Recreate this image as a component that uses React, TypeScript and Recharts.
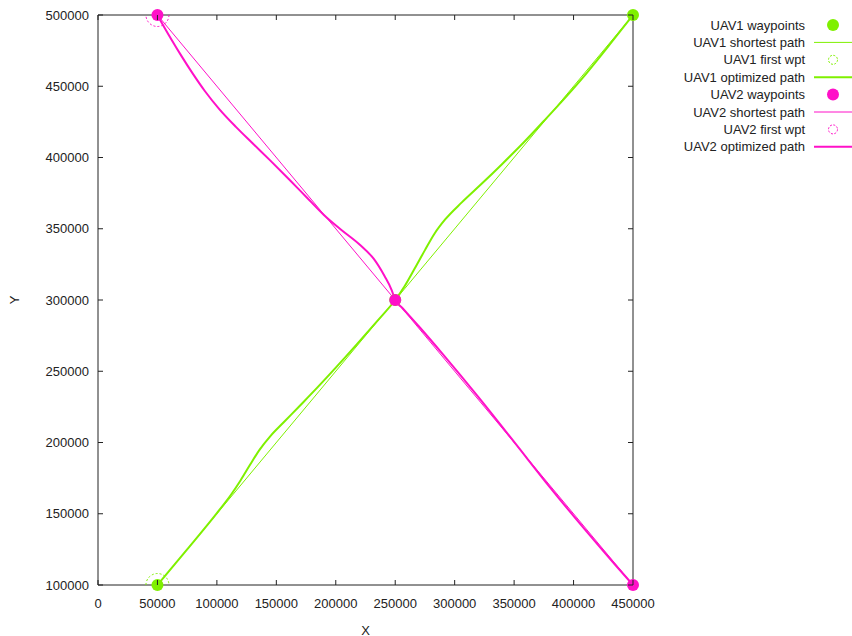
import React from 'react';
import { ComposedChart, Line, Scatter, XAxis, YAxis } from 'recharts';

const UAV1_COLOR = '#7ff000';
const UAV2_COLOR = '#ff10c8';
const INK = '#222';
const FONT = '"Liberation Sans", Arial, sans-serif';
const TICK_LEN = 5;

const xTicks = [0, 50000, 100000, 150000, 200000, 250000, 300000, 350000, 400000, 450000];
const yTicks = [100000, 150000, 200000, 250000, 300000, 350000, 400000, 450000, 500000];

// waypoints (the straight "shortest path" runs through these)
const uav1Waypoints = [
  { x: 50000, y: 100000 },
  { x: 250000, y: 300000 },
  { x: 450000, y: 500000 },
];
const uav2Waypoints = [
  { x: 50000, y: 500000 },
  { x: 250000, y: 300000 },
  { x: 450000, y: 100000 },
];

const uav1FirstWpt = [{ x: 50000, y: 100000 }];
const uav2FirstWpt = [{ x: 50000, y: 500000 }];

// optimized trajectories
const uav1Optimized = [
  { x: 50000, y: 100000 },
  { x: 75000, y: 125000 },
  { x: 100000, y: 150500 },
  { x: 112000, y: 163500 },
  { x: 120000, y: 173500 },
  { x: 128000, y: 184500 },
  { x: 136000, y: 195000 },
  { x: 145000, y: 204500 },
  { x: 156000, y: 214000 },
  { x: 170000, y: 226000 },
  { x: 185000, y: 239000 },
  { x: 200000, y: 252500 },
  { x: 218000, y: 269200 },
  { x: 235000, y: 285400 },
  { x: 250000, y: 300000 },
  { x: 258000, y: 309800 },
  { x: 266000, y: 321500 },
  { x: 275000, y: 335000 },
  { x: 283000, y: 346500 },
  { x: 292000, y: 356500 },
  { x: 306000, y: 368500 },
  { x: 322000, y: 381000 },
  { x: 340000, y: 395500 },
  { x: 358000, y: 410500 },
  { x: 375000, y: 425600 },
  { x: 390000, y: 439200 },
  { x: 410000, y: 458200 },
  { x: 430000, y: 478800 },
  { x: 450000, y: 500000 },
];

const uav2Optimized = [
  { x: 50000, y: 500000 },
  { x: 55000, y: 492500 },
  { x: 62000, y: 482500 },
  { x: 70000, y: 471500 },
  { x: 80000, y: 458500 },
  { x: 90000, y: 446500 },
  { x: 102000, y: 434000 },
  { x: 116000, y: 421500 },
  { x: 130000, y: 410000 },
  { x: 145000, y: 397800 },
  { x: 160000, y: 385300 },
  { x: 175000, y: 372500 },
  { x: 190000, y: 359700 },
  { x: 205000, y: 349000 },
  { x: 220000, y: 339000 },
  { x: 232000, y: 328800 },
  { x: 241000, y: 316800 },
  { x: 247000, y: 307000 },
  { x: 250000, y: 300000 },
  { x: 256000, y: 294400 },
  { x: 270000, y: 281400 },
  { x: 290000, y: 262000 },
  { x: 320000, y: 231800 },
  { x: 350000, y: 200400 },
  { x: 380000, y: 168700 },
  { x: 410000, y: 138500 },
  { x: 435000, y: 114200 },
  { x: 450000, y: 100000 },
];

const legendRows = [
  { label: 'UAV1 waypoints', kind: 'dot', color: UAV1_COLOR },
  { label: 'UAV1 shortest path', kind: 'thin', color: UAV1_COLOR },
  { label: 'UAV1 first wpt', kind: 'ring', color: UAV1_COLOR },
  { label: 'UAV1 optimized path', kind: 'thick', color: UAV1_COLOR },
  { label: 'UAV2 waypoints', kind: 'dot', color: UAV2_COLOR },
  { label: 'UAV2 shortest path', kind: 'thin', color: UAV2_COLOR },
  { label: 'UAV2 first wpt', kind: 'ring', color: UAV2_COLOR },
  { label: 'UAV2 optimized path', kind: 'thick', color: UAV2_COLOR },
];

const dotShape = (color: string) => (props: any) => (
  <circle cx={props.cx} cy={props.cy} r={6} fill={color} />
);

const ringShape = (color: string) => (props: any) => (
  <circle cx={props.cx} cy={props.cy} r={11.5} fill="none" stroke={color} strokeWidth={1} strokeDasharray="2 2" />
);

// ticks point inward from every side of the frame
const BottomTick = (props: any) => (
  <g>
    <line x1={props.x} x2={props.x} y1={props.y} y2={props.y - TICK_LEN} stroke={INK} />
    <text x={props.x} y={props.y + 23} textAnchor="middle" fill={INK} fontSize={13} fontFamily={FONT}>
      {props.payload.value}
    </text>
  </g>
);

const LeftTick = (props: any) => (
  <g>
    <line x1={props.x} x2={props.x + TICK_LEN} y1={props.y} y2={props.y} stroke={INK} />
    <text x={props.x - 9} y={props.y + 4.5} textAnchor="end" fill={INK} fontSize={13} fontFamily={FONT}>
      {props.payload.value}
    </text>
  </g>
);

const TopTick = (props: any) => (
  <line x1={props.x} x2={props.x} y1={props.y} y2={props.y + TICK_LEN} stroke={INK} />
);

const RightTick = (props: any) => (
  <line x1={props.x} x2={props.x - TICK_LEN} y1={props.y} y2={props.y} stroke={INK} />
);

const XLabel = (props: any) => {
  const vb = props.viewBox;
  return (
    <text x={vb.x + vb.width / 2} y={vb.y + 45} textAnchor="middle" dominantBaseline="central"
      fill={INK} fontSize={13} fontFamily={FONT}>
      X
    </text>
  );
};

const YLabel = (props: any) => {
  const vb = props.viewBox;
  const cx = vb.x + 14;
  const cy = vb.y + vb.height / 2;
  return (
    <text x={cx} y={cy} transform={`rotate(-90 ${cx} ${cy})`} textAnchor="middle" dominantBaseline="central"
      fill={INK} fontSize={13} fontFamily={FONT}>
      Y
    </text>
  );
};

const Legend = () => (
  <svg width={212} height={170} style={{ position: 'absolute', left: 640, top: 0 }}>
    {legendRows.map((row, i) => {
      const y = 25 + i * 17.4;
      return (
        <g key={row.label}>
          <text x={165} y={y + 4.5} textAnchor="end" fill={INK} fontSize={13} fontFamily={FONT}>
            {row.label}
          </text>
          {row.kind === 'dot' && <circle cx={193} cy={y} r={6} fill={row.color} />}
          {row.kind === 'ring' && (
            <circle cx={193} cy={y} r={4.5} fill="none" stroke={row.color} strokeWidth={1} strokeDasharray="2 1.5" />
          )}
          {row.kind === 'thin' && <line x1={174} x2={212} y1={y} y2={y} stroke={row.color} strokeWidth={1} />}
          {row.kind === 'thick' && <line x1={174} x2={212} y1={y} y2={y} stroke={row.color} strokeWidth={2} />}
        </g>
      );
    })}
  </svg>
);

export default function App() {
  return (
    <div style={{ position: 'absolute', left: 0, top: 0, width: 852, height: 636, background: '#fff' }}>
      <ComposedChart width={852} height={636} margin={{ top: 14, right: 218, bottom: 0, left: 0 }}
        style={{ fontFamily: FONT }}>
        <XAxis xAxisId="bottom" type="number" dataKey="x" domain={[0, 450000]} ticks={xTicks} interval={0}
          height={51} tickSize={0} tickMargin={0} tick={<BottomTick />} tickLine={false}
          axisLine={{ stroke: INK }} label={<XLabel />} />
        {/* mirrored axes close the frame; they clip what is bound to them */}
        <XAxis xAxisId="top" orientation="top" type="number" dataKey="x" domain={[0, 450000]} ticks={xTicks}
          interval={0} height={1} tickSize={0} tickMargin={0} tick={<TopTick />} tickLine={false}
          axisLine={{ stroke: INK }} allowDataOverflow />
        <YAxis yAxisId="left" type="number" dataKey="y" domain={[100000, 500000]} ticks={yTicks} interval={0}
          width={98} tickSize={0} tickMargin={0} tick={<LeftTick />} tickLine={false}
          axisLine={{ stroke: INK }} label={<YLabel />} />
        <YAxis yAxisId="right" orientation="right" type="number" dataKey="y" domain={[100000, 500000]}
          ticks={yTicks} interval={0} width={1} tickSize={0} tickMargin={0} tick={<RightTick />} tickLine={false}
          axisLine={{ stroke: INK }} allowDataOverflow />

        <Scatter xAxisId="bottom" yAxisId="left" data={uav1Waypoints} shape={dotShape(UAV1_COLOR)}
          isAnimationActive={false} />
        <Line xAxisId="top" yAxisId="right" data={uav1Waypoints} dataKey="y" type="linear" stroke={UAV1_COLOR}
          strokeWidth={1} dot={false} activeDot={false} isAnimationActive={false} />
        <Scatter xAxisId="top" yAxisId="right" data={uav1FirstWpt} shape={ringShape(UAV1_COLOR)}
          isAnimationActive={false} />
        <Line xAxisId="bottom" yAxisId="left" data={uav1Optimized} dataKey="y" type="monotone" stroke={UAV1_COLOR}
          strokeWidth={2} dot={false} activeDot={false} isAnimationActive={false} />

        <Scatter xAxisId="bottom" yAxisId="left" data={uav2Waypoints} shape={dotShape(UAV2_COLOR)}
          isAnimationActive={false} />
        <Line xAxisId="top" yAxisId="right" data={uav2Waypoints} dataKey="y" type="linear" stroke={UAV2_COLOR}
          strokeWidth={1} dot={false} activeDot={false} isAnimationActive={false} />
        <Scatter xAxisId="top" yAxisId="right" data={uav2FirstWpt} shape={ringShape(UAV2_COLOR)}
          isAnimationActive={false} />
        <Line xAxisId="bottom" yAxisId="left" data={uav2Optimized} dataKey="y" type="monotone" stroke={UAV2_COLOR}
          strokeWidth={2} dot={false} activeDot={false} isAnimationActive={false} />
      </ComposedChart>
      <Legend />
    </div>
  );
}
